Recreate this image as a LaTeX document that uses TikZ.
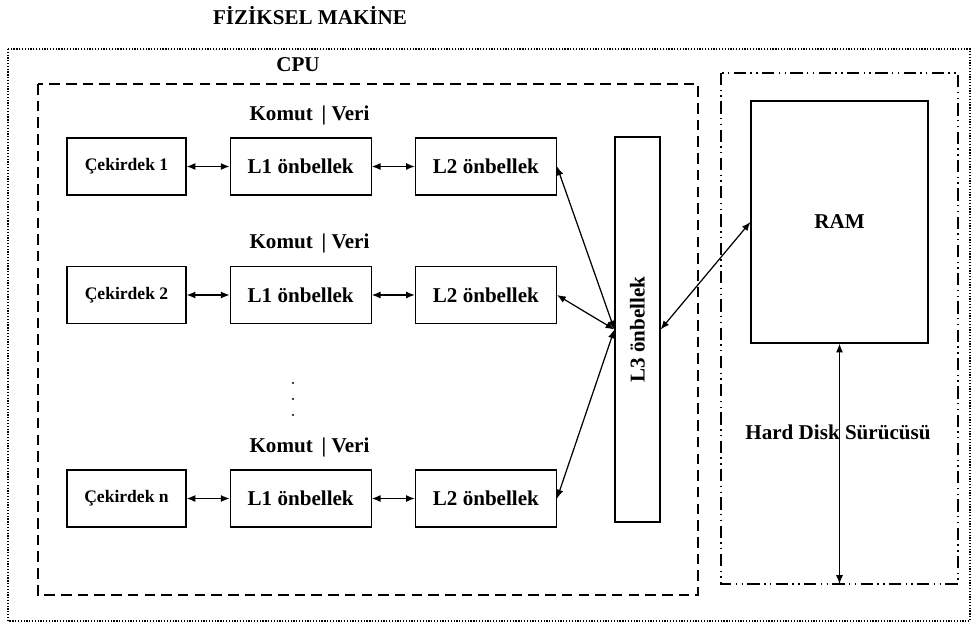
\documentclass[tikz,border=0pt]{standalone}
\usepackage{fontspec}
\setmainfont{Liberation Serif}
\usetikzlibrary{arrows.meta, positioning}

\begin{document}
\begin{tikzpicture}[
  x=0.02cm, y=-0.02cm,
  >={Latex[length=5pt,width=4pt]},
  node distance=0.86cm,
  font=\fontsize{12}{14}\selectfont\bfseries,
  box/.style={rectangle, draw, line width=0.7pt, minimum height=1.14cm, align=center, inner sep=2pt},
  corebox/.style={box, minimum width=2.38cm, font=\fontsize{10}{12}\selectfont\bfseries},
  cachebox/.style={box, minimum width=2.82cm},
  link/.style={<->, line width=0.7pt},
  tag/.style={inner sep=1pt}
]
\useasboundingbox (0,0) rectangle (974,623);
% -------------------------------------------------------------------------
% FRAMES
% -------------------------------------------------------------------------
\draw[line width=0.6pt, dash pattern=on 0.7pt off 0.9pt] (8,49) rectangle (970,621);
\draw[line width=0.7pt, dash pattern=on 6pt off 3.5pt] (38,84) rectangle (698,595);
\draw[line width=0.7pt, dash pattern=on 7pt off 2.5pt on 0.8pt off 2.5pt on 0.8pt off 2.5pt] (721,73) rectangle (958,584);
\node[tag] (machine) at (310,16) {FİZİKSEL MAKİNE};
\node[tag] (cpu) at (298,65) {CPU};
% -------------------------------------------------------------------------
% CORES
% -------------------------------------------------------------------------
\node[corebox] (core1) at (126.5,166.5) {Çekirdek 1};
\node[cachebox, right=of core1] (l1a) {L1 önbellek};
\node[cachebox, right=of l1a] (l2a) {L2 önbellek};
\node[tag, above=6pt of l1a, xshift=5pt] (splita) {Komut \,| Veri};

\node[corebox] (core2) at (126.5,295) {Çekirdek 2};
\node[cachebox, right=of core2] (l1b) {L1 önbellek};
\node[cachebox, right=of l1b] (l2b) {L2 önbellek};
\node[tag, above=6pt of l1b, xshift=5pt] (splitb) {Komut \,| Veri};

\foreach \y in {383,399,415} \fill (293,\y) circle (1.2);

\node[corebox] (coren) at (126.5,498.5) {Çekirdek n};
\node[cachebox, right=of coren] (l1n) {L1 önbellek};
\node[cachebox, right=of l1n] (l2n) {L2 önbellek};
\node[tag, above=6pt of l1n, xshift=5pt] (splitn) {Komut \,| Veri};
% -------------------------------------------------------------------------
% SHARED CACHE AND MEMORY
% -------------------------------------------------------------------------
\node[box, minimum width=0.9cm, minimum height=7.7cm] (l3) at (637.5,329.5) {\rotatebox{90}{L3 önbellek}};
\node[box, minimum width=3.54cm, minimum height=4.84cm] (ram) at (839.5,222) {RAM};
\node[tag] (hdd) at (838,432) {Hard Disk Sürücüsü};
\coordinate (hddend) at (839.5,584);

\draw[link] (core1) -- (l1a);
\draw[link] (l1a) -- (l2a);
\draw[link] (core2) -- (l1b);
\draw[link] (l1b) -- (l2b);
\draw[link] (coren) -- (l1n);
\draw[link] (l1n) -- (l2n);
\draw[link] (l2a.east) -- (l3.west);
\draw[link] (l2b.east) -- (l3.west);
\draw[link] (l2n.east) -- (l3.west);
\draw[link] (l3.east) -- (ram.west);
\draw[link] (ram.south) -- (hddend);
\end{tikzpicture}
\end{document}
